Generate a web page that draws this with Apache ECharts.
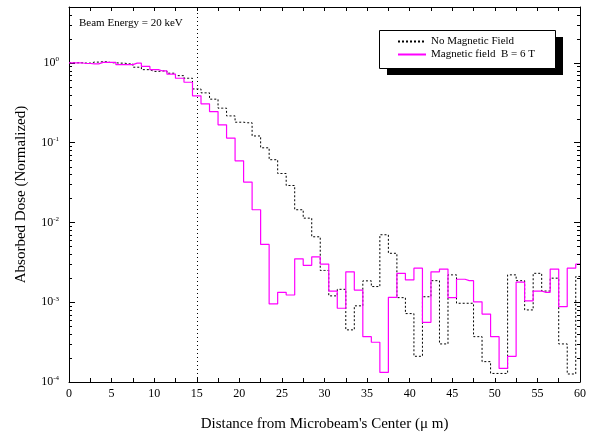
<!DOCTYPE html>
<html lang="en">
<head>
    <meta charset="UTF-8">
    <title>Absorbed Dose</title>
    <style>
        html, body { margin: 0; padding: 0; background: #fff; }
    </style>
</head>
<body>
<div class="main" style="width: 589px;height: 438px;"></div>
<script src="https://cdn.jsdelivr.net/npm/echarts@6/dist/echarts.min.js"></script>
<script>
    // bin centres (µm)
    var distance = [];
    for (var i = 0; i <= 60; i++) distance.push(i);

    // no magnetic field (dotted black)
    var noField = [1.0, 1.0, 0.99, 1.02, 1.03, 1.0, 0.99, 0.97, 0.88, 0.82,
        0.78, 0.79, 0.74, 0.69, 0.64, 0.47, 0.42, 0.35, 0.27, 0.216,
        0.18, 0.177, 0.121, 0.086, 0.061, 0.041, 0.029, 0.0144, 0.0113, 0.0066,
        0.0025, 0.0012, 0.00145, 0.00045, 0.0009, 0.00185, 0.00157, 0.007, 0.0041, 0.00114,
        0.00072, 0.00021, 0.00117, 0.00186, 0.0003, 0.0022, 0.00097, 0.00097, 0.00037, 0.00018,
        0.000128, 0.000128, 0.0022, 0.00186, 0.0008, 0.0023, 0.00138, 0.002, 0.0003, 0.000126,
        0.0021];

    // magnetic field B = 6 T (magenta)
    var withField = [1.0, 1.0, 0.98, 0.97, 1.01, 1.01, 0.95, 0.95, 0.99, 0.90,
        0.82, 0.79, 0.72, 0.64, 0.57, 0.385, 0.306, 0.245, 0.167, 0.114,
        0.059, 0.032, 0.0144, 0.0053, 0.00095, 0.00133, 0.00123, 0.0035, 0.0029, 0.0037,
        0.0030, 0.00138, 0.00084, 0.0024, 0.00142, 0.00037, 0.000315, 0.000132, 0.00115, 0.0023,
        0.0019, 0.00267, 0.00056, 0.0024, 0.0026, 0.00114, 0.00194, 0.00186, 0.00101, 0.00071,
        0.00037, 0.000148, 0.00021, 0.00178, 0.00104, 0.00138, 0.00133, 0.0026, 0.00088, 0.00267,
        0.0030];

    var seriesNames = ['No Magnetic Field', 'Magnetic field  B = 6 T'];
    var decades = [1e-4, 1e-3, 1e-2, 1e-1, 1];
    var minorSteps = [2, 3, 4, 5, 6, 7, 8, 9];
    var beamEnergy = 15; // dotted marker position

    var minorTicks = [];
    decades.forEach(function (d) {
        minorSteps.forEach(function (m) {
            if (d * m < 5) minorTicks.push(d * m);
        });
    });

    var font = 'Liberation Serif, Times New Roman, serif';

    function pairs(ys) {
        return distance.map(function (x, i) { return [x, ys[i]]; });
    }

    var main = document.querySelector(".main");
    var chart = echarts.init(main);

    function yAxisOf(position) {
        return {
            type: 'log',
            logBase: 10,
            min: 1e-4,
            max: 5,
            position: position,
            splitLine: {show: false},
            axisLine: {show: true, onZero: false, lineStyle: {color: '#000', width: 1}},
            axisTick: {show: true, inside: true, length: 6, customValues: decades, lineStyle: {color: '#000'}},
            axisLabel: {show: false}
        };
    }

    var yMain = yAxisOf('left');
    yMain.name = 'Absorbed Dose (Normalized)';
    yMain.nameLocation = 'middle';
    yMain.nameGap = 40;
    yMain.nameTextStyle = {fontFamily: font, fontSize: 15, color: '#000'};
    yMain.axisLabel = {
        show: true, customValues: decades, margin: 10,
        formatter: function (v) {
            var e = Math.round(Math.log10(v));
            return '{b|10}{s|' + e + '}';
        },
        rich: {
            b: {fontFamily: font, fontSize: 12, color: '#000'},
            s: {fontFamily: font, fontSize: 7, color: '#000', padding: [0, 0, 7, 0]}
        }
    };

    var baseGraphic = [
        {type: 'rect', z: 15, shape: {x: 387, y: 37, width: 176, height: 38}, style: {fill: '#000'}},
        {type: 'rect', z: 16, shape: {x: 379.5, y: 30.5, width: 176, height: 38},
            style: {fill: '#fff', stroke: '#000', lineWidth: 1}},
        {type: 'text', z: 16, left: 79, top: 18,
            style: {text: 'Beam Energy = 20 keV', font: '11px ' + font, fill: '#000'}}
    ];

    var option = {
        animation: false,
        backgroundColor: '#fff',
        grid: {left: 69, right: 7, top: 7, bottom: 56, containLabel: false},
        xAxis: [
            {
                type: 'value', min: 0, max: 60, interval: 2.5,
                name: "Distance from Microbeam's Center (\u03bc m)",
                nameLocation: 'middle', nameGap: 35,
                nameTextStyle: {fontFamily: font, fontSize: 15, color: '#000'},
                axisLine: {show: true, onZero: false, lineStyle: {color: '#000', width: 1}},
                axisTick: {inside: true, length: 4, lineStyle: {color: '#000'}},
                axisLabel: {
                    fontFamily: font, fontSize: 12, color: '#000', margin: 6,
                    formatter: function (v) { return v % 5 === 0 ? String(v) : ''; }
                },
                splitLine: {show: false}
            },
            {
                type: 'value', min: 0, max: 60, interval: 2.5, position: 'top',
                axisLine: {show: true, onZero: false, lineStyle: {color: '#000', width: 1}},
                axisTick: {inside: true, length: 4, lineStyle: {color: '#000'}},
                axisLabel: {show: false},
                splitLine: {show: false}
            }
        ],
        yAxis: [yMain, yAxisOf('right')],
        legend: {
            orient: 'vertical',
            left: 392, top: 31,
            itemWidth: 28, itemHeight: 8, itemGap: 2,
            z: 20,
            itemStyle: {opacity: 0},
            textStyle: {fontFamily: font, fontSize: 11, color: '#000'},
            data: seriesNames
        },
        graphic: baseGraphic,
        series: [
            {
                name: seriesNames[0],
                type: 'line',
                step: 'middle',
                symbol: 'none',
                lineStyle: {color: '#000', width: 1, type: [2, 2]},
                itemStyle: {color: '#000'},
                data: pairs(noField),
                markLine: {
                    silent: true,
                    symbol: ['none', 'none'],
                    label: {show: false},
                    lineStyle: {color: '#000', width: 1, type: [1, 3]},
                    data: [{xAxis: beamEnergy}]
                }
            },
            {
                name: seriesNames[1],
                type: 'line',
                step: 'middle',
                symbol: 'none',
                lineStyle: {color: '#ff00ff', width: 1.2},
                itemStyle: {color: '#ff00ff'},
                data: pairs(withField)
            }
        ]
    };
    chart.setOption(option);

    // minor log ticks (2..9 of each decade) on both sides, placed through the y scale
    var xl = Math.round(chart.convertToPixel({xAxisIndex: 0}, 0));
    var xr = Math.round(chart.convertToPixel({xAxisIndex: 0}, 60));
    var tickLines = [];
    minorTicks.forEach(function (v) {
        var y = Math.round(chart.convertToPixel({yAxisIndex: 0}, v)) + 0.5;
        tickLines.push({type: 'line', z: 30, shape: {x1: xl, y1: y, x2: xl + 3, y2: y}, style: {stroke: '#000', lineWidth: 1}});
        tickLines.push({type: 'line', z: 30, shape: {x1: xr - 3, y1: y, x2: xr, y2: y}, style: {stroke: '#000', lineWidth: 1}});
    });
    chart.setOption({graphic: baseGraphic.concat(tickLines)});
</script>
</body>
</html>
